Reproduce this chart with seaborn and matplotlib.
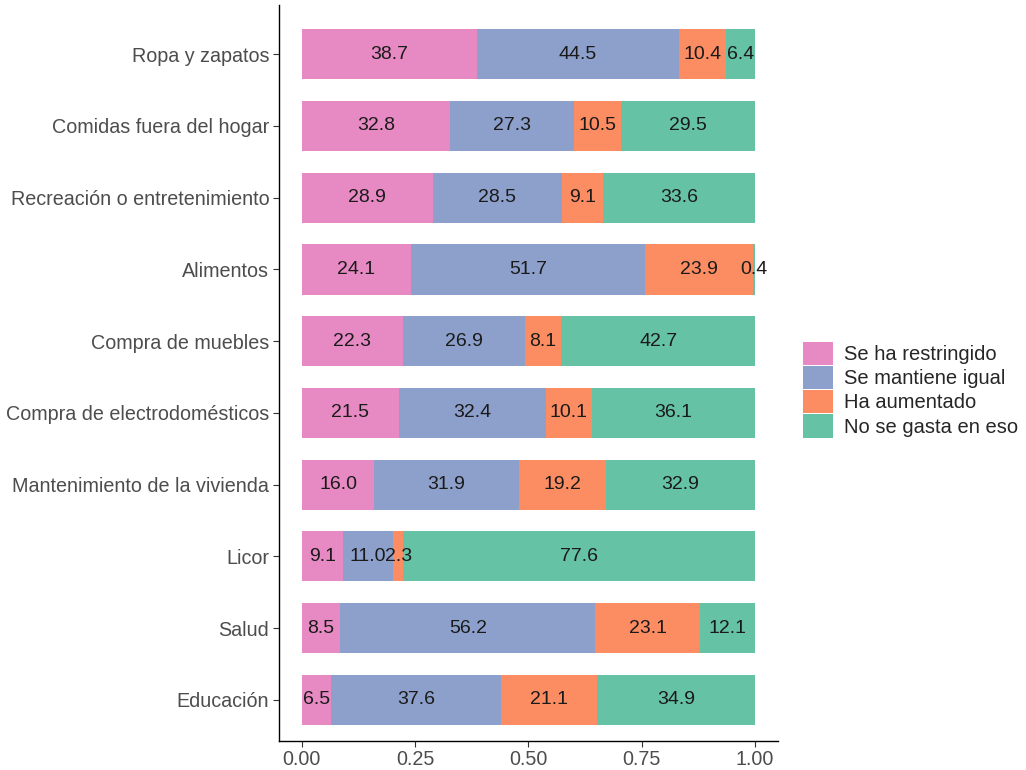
import numpy as np
import pandas as pd
import matplotlib
matplotlib.use('Agg')
import matplotlib.pyplot as plt
import seaborn as sns
from matplotlib.patches import Patch

CATEGORIES = ['Ropa y zapatos', 'Comidas fuera del hogar', 'Recreación o entretenimiento',
              'Alimentos', 'Compra de muebles', 'Compra de electrodomésticos',
              'Mantenimiento de la vivienda', 'Licor', 'Salud', 'Educación']
SERIES = ['Se ha restringido', 'Se mantiene igual', 'Ha aumentado', 'No se gasta en eso']

restringido = [38.7, 32.8, 28.9, 24.1, 22.3, 21.5, 16.0, 9.1, 8.5, 6.5]
igual = [44.5, 27.3, 28.5, 51.7, 26.9, 32.4, 31.9, 11.0, 56.2, 37.6]
aumentado = [10.4, 10.5, 9.1, 23.9, 8.1, 10.1, 19.2, 2.3, 23.1, 21.1]
no_gasta = [6.4, 29.5, 33.6, 0.4, 42.7, 36.1, 32.9, 77.6, 12.1, 34.9]

set2 = sns.color_palette('Set2')
COLORS = [set2[3], set2[2], set2[1], set2[0]]

df = pd.DataFrame({'cat': CATEGORIES, SERIES[0]: restringido, SERIES[1]: igual,
                   SERIES[2]: aumentado, SERIES[3]: no_gasta})
vals = df[SERIES].to_numpy()
frac = vals / vals.sum(axis=1, keepdims=True)
cum = np.cumsum(frac, axis=1)

sns.set_theme(style='white')
plt.rcParams['font.family'] = ['Liberation Sans', 'DejaVu Sans']

fig = plt.figure(figsize=(10.26, 7.70), dpi=100)
ax = fig.add_axes([0.272, 0.038, 0.486, 0.955])

# draw cumulative bars from the right-most series back to the first
for j in range(len(SERIES) - 1, -1, -1):
    sns.barplot(x=cum[:, j], y=df['cat'], color=COLORS[j], orient='h',
                width=0.7, saturation=1, ax=ax, linewidth=0)

# centered value labels
for i in range(len(CATEGORIES)):
    for j in range(len(SERIES)):
        center = cum[i, j] - frac[i, j] / 2
        ax.text(center, i, f'{vals[i, j]:.1f}', ha='center', va='center',
                fontsize=14, color='#1a1a1a')

ax.set_xlim(-0.05, 1.05)
ax.set_ylim(len(CATEGORIES) - 0.43, -0.68)
ax.set_xticks([0, 0.25, 0.5, 0.75, 1.0])
ax.set_xticklabels(['0.00', '0.25', '0.50', '0.75', '1.00'])
ax.set_xlabel('')
ax.set_ylabel('')
ax.tick_params(axis='both', colors='#333333', labelcolor='#4D4D4D', labelsize=14.2,
               length=4, width=0.8, left=True, bottom=True, pad=3)
sns.despine(ax=ax)
for s in ['left', 'bottom']:
    ax.spines[s].set_color('black')
    ax.spines[s].set_linewidth(1.0)

handles = [Patch(facecolor=COLORS[j], edgecolor='none', label=SERIES[j]) for j in range(len(SERIES))]
fig.legend(handles=handles, loc='center left', bbox_to_anchor=(0.783, 0.494), frameon=False,
           fontsize=14.5, handlelength=1.45, handleheight=1.4, handletextpad=0.55,
           labelspacing=0.05, borderaxespad=0, borderpad=0)

fig.savefig('out.png', dpi=100)
